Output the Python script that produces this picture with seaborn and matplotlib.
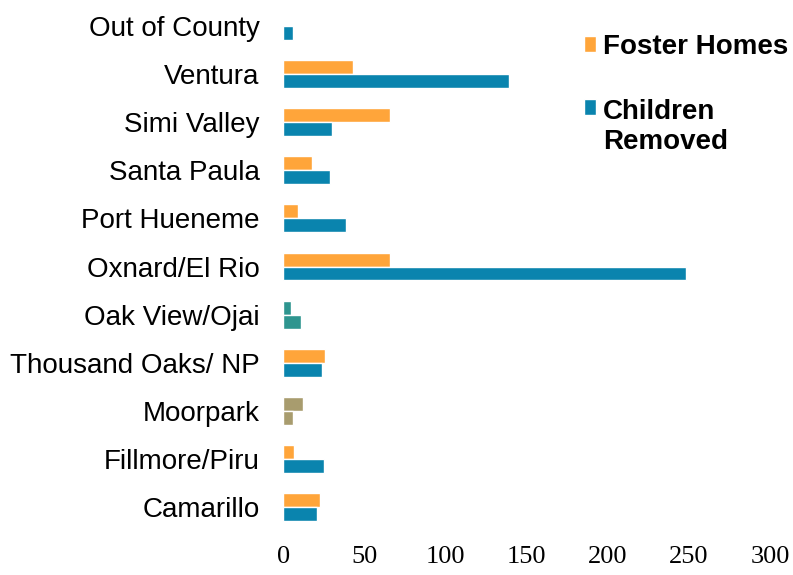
import pandas as pd
import seaborn as sns
import matplotlib.pyplot as plt

# values
areas = ['Out of County', 'Ventura', 'Simi Valley', 'Santa Paula', 'Port Hueneme',
         'Oxnard/El Rio', 'Oak View/Ojai', 'Thousand Oaks/ NP', 'Moorpark',
         'Fillmore/Piru', 'Camarillo']
foster_homes = [0, 43, 66, 18, 9, 66, 5, 26, 12, 7, 23]
children_removed = [6, 139, 30, 29, 39, 248, 11, 24, 6, 25, 21]
series = ['Foster Homes', 'Children\nRemoved']
xticks = [0, 50, 100, 150, 200, 250, 300]

data = pd.DataFrame({
    'Area': areas * 2,
    'Count': foster_homes + children_removed,
    'Series': [series[0]] * len(areas) + [series[1]] * len(areas),
})

sns.set_style('white')
plt.rcParams['font.family'] = ['Liberation Sans', 'DejaVu Sans']
plt.rcParams['text.color'] = 'black'
plt.rcParams['xtick.color'] = 'black'
plt.rcParams['ytick.color'] = 'black'

fig = plt.figure(figsize=(7.93, 5.75), dpi=100)
ax = fig.add_axes([0.357, 0.0765, 0.614, 0.92])

palette = ['#FFA53A', '#0A84AE']
sns.barplot(data=data, y='Area', x='Count', hue='Series', order=areas,
            hue_order=series, palette=palette, width=0.58, saturation=1,
            orient='h', ax=ax)

# odd colours on two of the groups in the original scan
for c in ax.containers:
    c[6].set_facecolor('#2E958F')
    c[8].set_facecolor('#A89C6E')

ax.set_xlim(0, 300)
ax.set_ylim(10.5, -0.5)
ax.set_xticks(xticks)
ax.set_xticklabels([str(t) for t in xticks], family='Liberation Serif', fontsize=19)
ax.tick_params(axis='x', length=0, pad=11)
ax.tick_params(axis='y', length=0, pad=17, labelsize=20)
ax.set_xlabel('')
ax.set_ylabel('')
for s in ax.spines.values():
    s.set_visible(False)

leg = ax.legend(loc='upper left', bbox_to_anchor=(0.736, 0.941), bbox_transform=fig.transFigure,
                frameon=False, borderpad=0, borderaxespad=0,
                handlelength=0.45, handleheight=0.5, handletextpad=0.25,
                labelspacing=1.4, prop={'weight': 'bold', 'size': 20})
# square next to the first line of the two-line label
rows = leg._legend_handle_box.get_children()[0].get_children()
rows[1].align = 'top'
rows[1].get_children()[0].set_offset((0, -6))

fig.savefig('out.png', dpi=100)
